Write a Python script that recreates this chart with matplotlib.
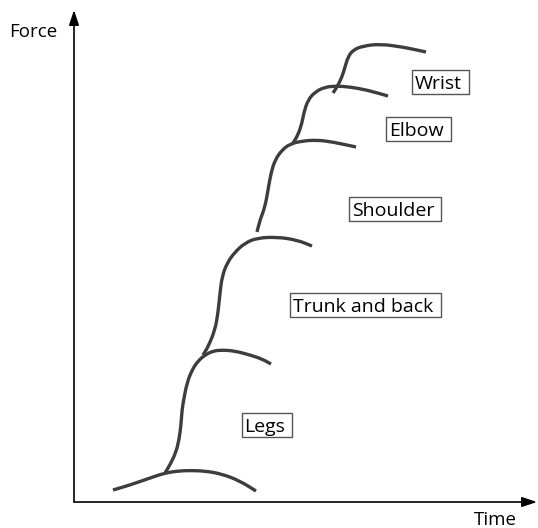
import matplotlib
matplotlib.use("Agg")
import matplotlib.pyplot as plt
from matplotlib.path import Path
from matplotlib.patches import PathPatch, Rectangle

# Sequential force build-up of body segments over time (schematic units)
legs_t = [39, 56, 76, 91, 104, 116, 131, 148, 166, 182]
legs_f = [12, 17, 24, 29, 31, 31.5, 31, 28, 21, 11]

trunk_t = [91, 97, 102, 105, 107, 108, 110, 113, 118, 124, 131, 139, 148, 161, 176, 188, 197]
trunk_f = [29, 39, 50, 62, 77, 92, 104, 119, 132, 141, 147, 151, 152, 151, 147, 143, 138]

shoulder_t = [129, 134, 141, 144, 146, 148, 153, 161, 171, 183, 203, 223, 238]
shoulder_f = [147, 155, 172, 189, 209, 225, 239, 250, 259, 264, 265, 262, 256]

elbow_t = [183, 186, 191, 194, 197, 201, 208, 216, 228, 243, 259, 282]
elbow_f = [270, 282, 295, 312, 329, 342, 352, 358, 361, 362, 360, 355]

wrist_t = [219, 224, 228, 230, 234, 241, 251, 263, 276, 293, 314]
wrist_f = [359, 367, 379, 390, 402, 410, 415, 416, 415, 412, 406]

hand_t = [259, 263, 268, 271, 274, 279, 289, 306, 329, 352]
hand_f = [409, 415, 425, 435, 445, 452, 456, 458, 455, 450]

labels = ["Wrist", "Elbow", "Shoulder", "Trunk and back", "Legs"]
label_t = [366, 344.5, 321, 291.5, 193]
label_f = [413, 366, 286, 190, 70]


def smooth_path(xs, ys):
    """Quadratic B-spline style path using the points as control points."""
    pts = list(zip(xs, ys))
    verts = [pts[0]]
    codes = [Path.MOVETO]
    mids = [((pts[i][0] + pts[i + 1][0]) / 2, (pts[i][1] + pts[i + 1][1]) / 2)
            for i in range(len(pts) - 1)]
    verts.append(mids[0])
    codes.append(Path.LINETO)
    for i in range(1, len(pts) - 1):
        verts += [pts[i], mids[i]]
        codes += [Path.CURVE3, Path.CURVE3]
    verts.append(pts[-1])
    codes.append(Path.LINETO)
    return Path(verts, codes)


W, H = 538, 528
fig = plt.figure(figsize=(W / 100, H / 100), dpi=100)
ax = fig.add_axes([0, 0, 1, 1])
ax.set_xlim(-74, W - 74)
ax.set_ylim(-26, H - 26)
ax.axis("off")

curve_color = "#3d3d3d"
for t, f in [(legs_t, legs_f), (trunk_t, trunk_f), (shoulder_t, shoulder_f),
             (elbow_t, elbow_f), (wrist_t, wrist_f), (hand_t, hand_f)]:
    ax.add_patch(PathPatch(smooth_path(t, f), fill=False, ec=curve_color,
                           lw=2.4, capstyle="butt", joinstyle="round"))

# Axes with arrow heads
arrow = dict(arrowstyle="-|>,head_length=0.9,head_width=0.3", color="black",
             lw=1.2, shrinkA=0, shrinkB=0)
ax.annotate("", xy=(0, 492), xytext=(0, 0), arrowprops=arrow)
ax.annotate("", xy=(463, 0), xytext=(0, 0), arrowprops=arrow)

font = "Open Sans"
ax.text(-41, 470, "Force", ha="center", va="center", fontsize=13.5, family=font)
ax.text(421, -18, "Time", ha="center", va="center", fontsize=13.5, family=font)

# Boxed segment labels: box sized from the rendered text extent
renderer = fig.canvas.get_renderer()
to_data = ax.transData.inverted()
for lab, t, f in zip(labels, label_t, label_f):
    cx, cy = ax.transData.transform((t, f))
    tx, _ = to_data.transform((cx - 2, cy))
    txt = ax.text(tx, f, lab, ha="center", va="baseline", fontsize=14,
                  family=font, zorder=3)
    bb = txt.get_window_extent(renderer)
    w = bb.width + 10
    h = 24
    x0, y0 = to_data.transform((cx - w / 2, cy + 7 - h / 2))
    x1, y1 = to_data.transform((cx + w / 2, cy + 7 + h / 2))
    ax.add_patch(Rectangle((x0, y0), x1 - x0, y1 - y0, fc="white",
                           ec="#555555", lw=1, zorder=2))

fig.savefig("out.png", dpi=100)
